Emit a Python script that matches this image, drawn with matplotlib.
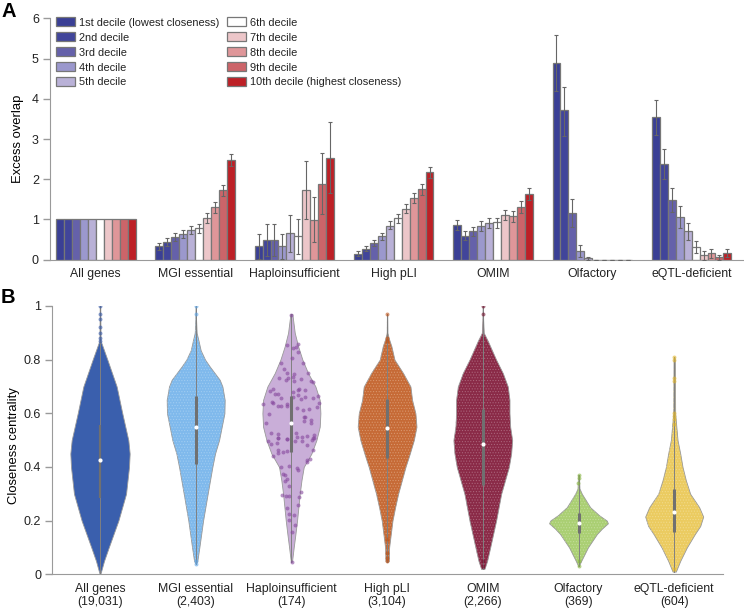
import numpy as np
import matplotlib
matplotlib.use("Agg")
import matplotlib.pyplot as plt

plt.rcParams['font.family'] = ['Liberation Sans', 'DejaVu Sans']
plt.rcParams['text.color'] = '#222222'
plt.rcParams['hatch.linewidth'] = 0.5

######## Panel A data ########
decile_labels = ['1st decile (lowest closeness)', '2nd decile', '3rd decile', '4th decile', '5th decile',
                 '6th decile', '7th decile', '8th decile', '9th decile', '10th decile (highest closeness)']
decile_colors = ['#3a3f95', '#41459a', '#6561aa', '#9b98cd', '#b9b1d7',
                 '#ffffff', '#ecc6c9', '#df9699', '#cc6469', '#bd2026']
group_labels = ['All genes', 'MGI essential', 'Haploinsufficient', 'High pLI', 'OMIM', 'Olfactory', 'eQTL-deficient']

all_genes = [1, 1, 1, 1, 1, 1, 1, 1, 1, 1]
mgi = [.33, .43, .56, .63, .73, .78, 1.04, 1.30, 1.72, 2.47]
mgi_hi = [.42, .53, .66, .73, .83, .89, 1.17, 1.44, 1.86, 2.63]
mgi_lo = [.25, .35, .47, .53, .63, .67, .92, 1.16, 1.58, 2.32]
haplo = [.33, .50, .50, .33, .66, .58, 1.72, .99, 1.89, 2.54]
haplo_hi = [.65, .89, .89, .65, 1.12, 1.00, 2.46, 1.55, 2.66, 3.43]
haplo_lo = [.01, .10, .10, .01, .20, .15, 1.00, .43, 1.13, 1.66]
pli = [.15, .27, .41, .58, .85, 1.03, 1.27, 1.53, 1.75, 2.17]
pli_hi = [.21, .33, .48, .67, .95, 1.14, 1.39, 1.65, 1.89, 2.31]
pli_lo = [.10, .21, .35, .50, .76, .92, 1.16, 1.42, 1.62, 2.03]
omim = [.86, .60, .71, .85, .91, .93, 1.12, 1.08, 1.32, 1.64]
omim_hi = [.98, .72, .82, .95, 1.04, 1.04, 1.24, 1.21, 1.46, 1.79]
omim_lo = [.75, .50, .60, .72, .78, .80, .98, .94, 1.17, 1.49]
olf = [4.90, 3.71, 1.17, .22, .03, 0, 0, 0, 0, 0]
olf_hi = [5.59, 4.30, 1.52, .37, .07, 0, 0, 0, 0, 0]
olf_lo = [4.20, 3.08, .81, .07, 0, 0, 0, 0, 0, 0]
eqtl = [3.54, 2.37, 1.48, 1.07, .71, .32, .12, .16, .06, .16]
eqtl_hi = [3.98, 2.74, 1.78, 1.33, .92, .47, .22, .26, .12, .26]
eqtl_lo = [3.10, 2.00, 1.19, .80, .50, .17, 0, .05, 0, .06]

group_values = [all_genes, mgi, haplo, pli, omim, olf, eqtl]
group_hi = [all_genes, mgi_hi, haplo_hi, pli_hi, omim_hi, olf_hi, eqtl_hi]
group_lo = [all_genes, mgi_lo, haplo_lo, pli_lo, omim_lo, olf_lo, eqtl_lo]

######## Panel B data ########
# half width of each violin is in units of the spacing between violins
violin_labels = ['All genes\n(19,031)', 'MGI essential\n(2,403)', 'Haploinsufficient\n(174)', 'High pLI\n(3,104)',
                 'OMIM\n(2,266)', 'Olfactory\n(369)', 'eQTL-deficient\n(604)']
fill_colors = ['#3a5fad', '#7fb9ec', '#c9aed8', '#c66a36', '#8a2a47', '#aacf73', '#ebcb60']
dot_colors = ['#3558a8', '#5ea5e6', '#85479c', '#bd5218', '#74122f', '#86b440', '#e0b52c']
# lighter speckle showing through the dense clouds, None for no speckle
speckle_colors = [None, '#b5d8f5', None, '#e6b491', '#c08a9c', '#d3e6b2', '#f6e4a6']

y_all = [1.0, .87, .86, .8, .7, .6, .5, .45, .4, .3, .2, .1, .05, 0]
w_all = [.003, .006, .017, .077, .174, .233, .296, .31, .303, .272, .192, .091, .042, .003]
y_mgi = [1.0, .95, .9, .87, .835, .8, .775, .725, .7, .65, .6, .55, .5, .45, .4, .3, .2, .1, .05, .04]
w_mgi = [.002, .004, .01, .03, .052, .098, .146, .251, .279, .303, .3, .272, .244, .202, .174, .125, .077, .038, .017, .002]
y_haplo = [.97, .9, .85, .8, .75, .7, .65, .6, .55, .5, .45, .4, .35, .3, .2, .15, .1, .05, .045]
w_haplo = [.01, .035, .07, .115, .174, .251, .296, .303, .296, .261, .209, .129, .105, .087, .059, .042, .024, .007, .002]
y_pli = [.97, .9, .88, .85, .8, .75, .7, .65, .6, .55, .5, .45, .4, .3, .25, .2, .1, .05, .045]
w_pli = [.002, .004, .017, .045, .077, .167, .244, .261, .296, .307, .279, .237, .192, .115, .084, .056, .021, .017, .002]
y_omim = [1.0, .95, .9, .87, .85, .8, .75, .7, .65, .6, .55, .5, .45, .4, .3, .2, .1, .05, .02]
w_omim = [.002, .004, .01, .052, .077, .139, .209, .261, .279, .279, .286, .307, .296, .272, .192, .139, .077, .045, .017]
y_olf = [.37, .35, .32, .3, .25, .22, .2, .19, .17, .15, .1, .05, .03]
w_olf = [.007, .007, .01, .035, .122, .216, .296, .307, .244, .192, .098, .028, .002]
y_eqtl = [.81, .8, .6, .5, .45, .4, .35, .3, .25, .215, .18, .15, .1, .05, .01]
w_eqtl = [.002, .007, .01, .035, .063, .087, .122, .167, .261, .303, .272, .216, .132, .063, .017]

median = [.427, .55, .565, .547, .485, .193, .232]
q1 = [.285, .41, .455, .435, .333, .153, .159]
q3 = [.555, .665, .665, .652, .616, .23, .318]

# points: offset from violin centre, then value
x_pts_all = [0, 0, 0, 0, 0, 0, 0]
v_pts_all = [1.0, .97, .95, .92, .90, .88, .87]
x_pts_mgi = [0, 0, 0, 0]
v_pts_mgi = [1.0, .97, .05, .04]
x_pts_pli = [0, 0, 0, 0, 0, 0, 0]
v_pts_pli = [.97, .88, .87, .13, .08, .06, .05]
x_pts_omim = [0, 0, 0, 0]
v_pts_omim = [1.0, .97, .05, .03]
x_pts_olf = [0, 0, -.01, 0, 0]
v_pts_olf = [.37, .358, .339, .05, .03]
x_pts_eqtl = [0, 0, 0, 0, 0, 0, 0, 0, 0]
v_pts_eqtl = [.81, .80, .73, .72, .60, .59, .58, .56, .02]
x_pts_haplo = [-.007, -.049, .066, .045, .017, .07, .01, .118, -.108, -.08, -.042, .171, .024, .021, -.132, -.031,
               -.059, .031, .101, .206, .226, -.188, -.223, .017, .066, .08, .139, -.136, -.171, .066, .014, -.105,
               .226, .282, .143, .101, -.206, -.188, -.296, -.045, -.042, -.108, -.143, .293, .272, .063, .122, .188,
               -.23, .143, .129, .206, .136, -.261, .206, -.216, .049, -.143, .063, .111, .167, .24, .226, -.143, -.049,
               -.247, -.216, -.153, -.143, -.045, .038, .108, .16, .213, .24, -.136, -.136, -.091, -.049, -.188, .23,
               .195, .164, .167, -.111, -.021, .059, .07, -.087, -.063, -.045, -.07, -.028, .098, -.098, -.056, -.028,
               .084, .066, -.049, -.024, .024, -.021, .042, .007, .007]
v_pts_haplo = [.966, .853, .860, .848, .842, .829, .806, .789, .786, .764, .749, .750, .746, .737, .730, .730,
               .724, .720, .727, .720, .717, .689, .683, .678, .687, .691, .688, .673, .671, .668, .661, .657,
               .658, .663, .661, .652, .643, .640, .633, .635, .629, .629, .626, .638, .622, .619, .612, .615,
               .596, .585, .585, .575, .570, .564, .564, .528, .525, .522, .513, .512, .514, .520, .509, .509, .504,
               .498, .486, .489, .509, .506, .496, .497, .482, .501, .507, .463, .453, .457, .461, .442, .465,
               .43, .426, .417, .399, .402, .395, .389, .373, .369, .355, .347, .328, .308, .297, .292, .293,
               .288, .257, .247, .226, .221, .201, .183, .159, .045]

violin_y = [y_all, y_mgi, y_haplo, y_pli, y_omim, y_olf, y_eqtl]
violin_w = [w_all, w_mgi, w_haplo, w_pli, w_omim, w_olf, w_eqtl]
pts_x = [x_pts_all, x_pts_mgi, x_pts_haplo, x_pts_pli, x_pts_omim, x_pts_olf, x_pts_eqtl]
pts_v = [v_pts_all, v_pts_mgi, v_pts_haplo, v_pts_pli, v_pts_omim, v_pts_olf, v_pts_eqtl]

######## Figure layout, sizes in pixels of the 744x611 picture ########
W, H = 744, 611
fig = plt.figure(figsize=(W / 100, H / 100), dpi=100)
ax1 = fig.add_axes([50 / W, 1 - 259.7 / H, 693 / W, 241.4 / H])
ax2 = fig.add_axes([52.3 / W, 1 - 574.3 / H, 670.4 / W, 268.3 / H])

grey = '#9a9a9a'
for ax in (ax1, ax2):
    ax.spines['top'].set_visible(False)
    ax.spines['right'].set_visible(False)
    ax.spines['left'].set_color(grey)
    ax.spines['bottom'].set_color(grey)
    ax.tick_params(axis='y', length=5, width=1, color=grey, labelsize=9, pad=3, labelcolor='#222222')
    ax.tick_params(axis='x', length=0, labelsize=8.8, labelcolor='#222222')

######## Panel A: bars ########
bar_w = 7.96
group_step = 99.3
ax1.set_xlim(-6, 687)
ax1.set_ylim(0, 6)
centres = []
for g in range(len(group_values)):
    xs = g * group_step + np.arange(10) * bar_w + bar_w / 2
    centres.append(xs.mean())
    vals = np.array(group_values[g])
    hi = np.array(group_hi[g])
    lo = np.array(group_lo[g])
    for i in range(10):
        ax1.bar(xs[i], vals[i], width=bar_w, color=decile_colors[i], edgecolor='#777777', linewidth=0.9,
                label=decile_labels[i] if g == 0 else None, zorder=2)
    if g > 0:
        ax1.errorbar(xs, vals, yerr=[vals - lo, hi - vals], fmt='none', ecolor='#666666',
                     elinewidth=0.8, capsize=1.6, capthick=0.8, zorder=3)
ax1.set_xticks(centres)
ax1.set_xticklabels(group_labels)
ax1.tick_params(axis='x', pad=6)
ax1.set_yticks(range(7))
ax1.set_ylabel('Excess overlap', fontsize=9.4)
ax1.yaxis.set_label_coords(-26 / 693, 0.5)
ax1.legend(ncol=2, loc='upper left', bbox_to_anchor=(6 / 693, 1.004), frameon=False, fontsize=7.9,
           borderpad=0, borderaxespad=0, handlelength=1.73, handleheight=0.9, handletextpad=0.33,
           labelspacing=0.42, columnspacing=0.73)

######## Panel B: violins ########
ax2.set_xlim(-47.7 / 95.7, (722.7 - 100) / 95.7)
ax2.set_ylim(0, 1)
for i in range(len(violin_y)):
    y = np.array(violin_y[i])
    w = np.array(violin_w[i])
    ax2.fill_betweenx(y, i - w, i + w, facecolor=fill_colors[i], edgecolor='#999999', linewidth=0.6, zorder=2)
    if speckle_colors[i]:
        ax2.fill_betweenx(y, i - w, i + w, facecolor='none', edgecolor=speckle_colors[i], linewidth=0,
                          hatch='......', alpha=0.55, zorder=2.5)
    ax2.plot([i, i], [y.min(), y.max()], color='#808080', linewidth=0.7, zorder=3)
    ax2.scatter(i + np.array(pts_x[i]), pts_v[i], s=8, color=dot_colors[i], alpha=0.6, linewidths=0, zorder=4)
    ax2.plot([i, i], [q1[i], q3[i]], color='#707070', linewidth=2.2 if i else 1.6, solid_capstyle='butt', zorder=5)
    ax2.scatter(i, median[i], s=9, color='white', linewidths=0, zorder=6)
ax2.set_xticks(range(len(violin_labels)))
ax2.set_xticklabels(violin_labels, linespacing=1.2)
ax2.tick_params(axis='x', pad=6)
ax2.set_yticks([0, .2, .4, .6, .8, 1])
ax2.set_yticklabels(['0', '0.2', '0.4', '0.6', '0.8', '1'])
ax2.set_ylabel('Closeness centrality', fontsize=9.4)
ax2.yaxis.set_label_coords(-32 / 670.4, 0.479)

fig.text(2 / W, 1 - 17 / H, 'A', fontsize=14.5, fontweight='bold', color='black')
fig.text(1 / W, 1 - 303 / H, 'B', fontsize=14.5, fontweight='bold', color='black')

fig.savefig('out.png', dpi=100)
